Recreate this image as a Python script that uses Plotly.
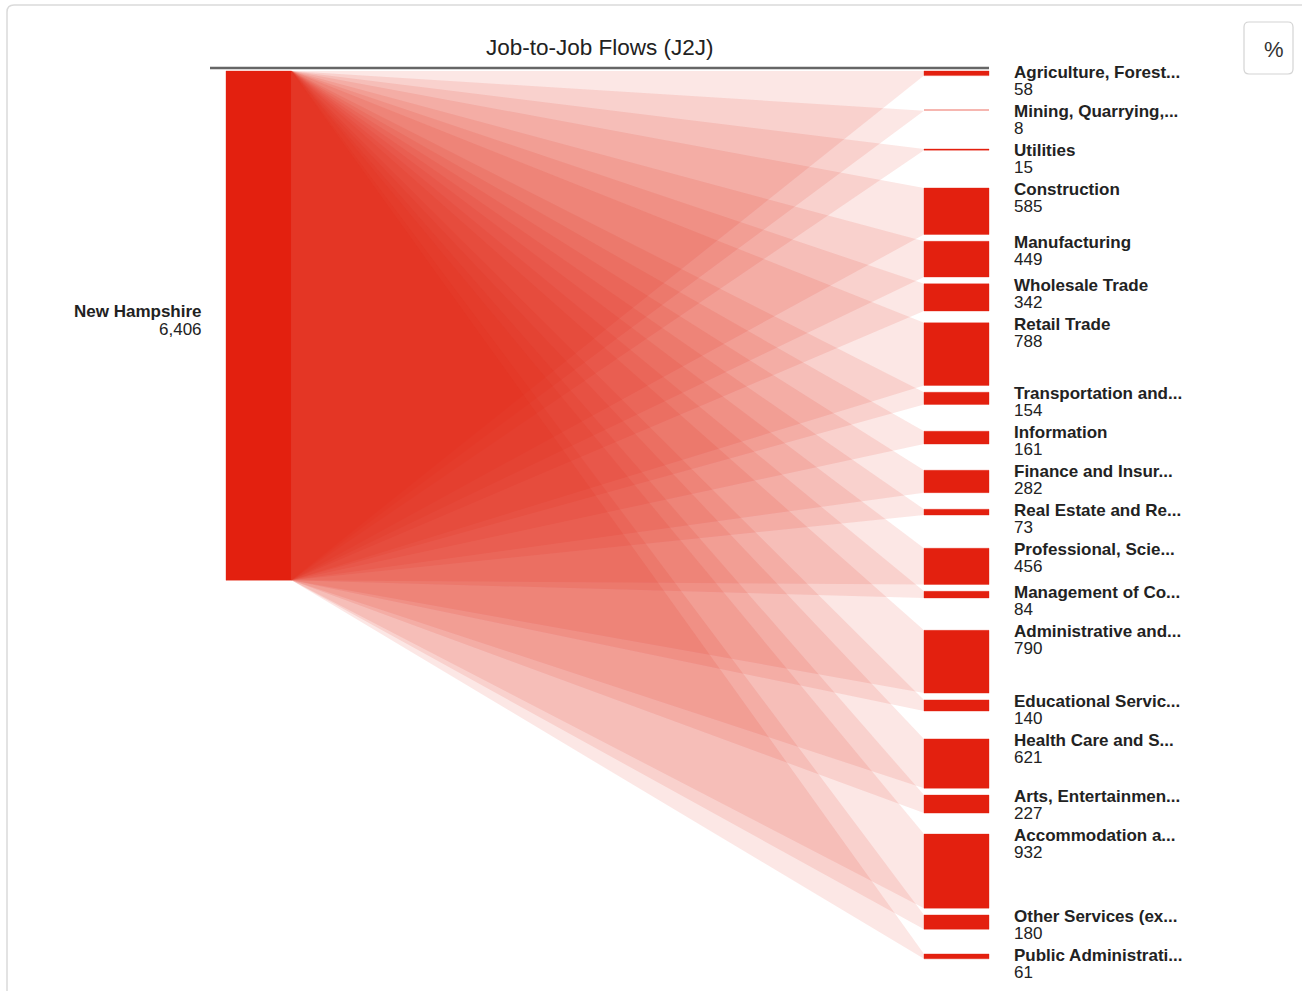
import plotly.graph_objects as go

# ---- data -------------------------------------------------------------
origin = "New Hampshire"
sectors = [
    "Agriculture, Forest...", "Mining, Quarrying,...", "Utilities", "Construction",
    "Manufacturing", "Wholesale Trade", "Retail Trade", "Transportation and...",
    "Information", "Finance and Insur...", "Real Estate and Re...", "Professional, Scie...",
    "Management of Co...", "Administrative and...", "Educational Servic...",
    "Health Care and S...", "Arts, Entertainmen...", "Accommodation a...",
    "Other Services (ex...", "Public Administrati...",
]
flows = [58, 8, 15, 585, 449, 342, 788, 154, 161, 282,
         73, 456, 84, 790, 140, 621, 227, 932, 180, 61]
title = "Job-to-Job Flows (J2J)"

# ---- layout constants (pixel space) -----------------------------------
W, H = 1302, 991
PX_PER_JOB = 0.0795
TOP = 71.0
LABEL_STEP = 39.0      # minimum vertical step between target labels
NODE_GAP = 6.8         # minimum gap between target nodes
LX0, LX1 = 226.0, 291.5
RX0, RX1 = 924.0, 989.0
NODE_RED = "#E3200F"
NODE_EDGE = "rgba(227,32,15,0.45)"
LINK_FILL = "rgba(227,32,15,0.11)"
FONT = "Liberation Sans, Arial, Helvetica, sans-serif"
TEXT = "#222222"

total = sum(flows)
left_top = TOP
left_bot = TOP + total * PX_PER_JOB

# target node placement
tops, bots = [], []
for i, v in enumerate(flows):
    if i == 0:
        t = TOP
    else:
        t = max(tops[-1] + LABEL_STEP, bots[-1] + NODE_GAP)
    tops.append(t)
    bots.append(t + v * PX_PER_JOB)

fig = go.Figure()

# links: each flow fans from the full height of the origin node
for name, t, b in zip(sectors, tops, bots):
    fig.add_trace(go.Scatter(
        x=[LX1, RX0, RX0, LX1, LX1],
        y=[left_top, t, b, left_bot, left_top],
        mode="lines", fill="toself", fillcolor=LINK_FILL,
        line=dict(width=0), hoverinfo="skip", showlegend=False,
    ))

# origin node
fig.add_trace(go.Scatter(
    x=[LX0, LX1, LX1, LX0, LX0],
    y=[left_top, left_top, left_bot, left_bot, left_top],
    mode="lines", fill="toself", fillcolor=NODE_RED,
    line=dict(width=0.8, color=NODE_EDGE), hoverinfo="skip", showlegend=False,
))

# target nodes
for t, b in zip(tops, bots):
    fig.add_trace(go.Scatter(
        x=[RX0, RX1, RX1, RX0, RX0],
        y=[t, t, b, b, t],
        mode="lines", fill="toself", fillcolor=NODE_RED,
        line=dict(width=0.8, color=NODE_EDGE), hoverinfo="skip", showlegend=False,
    ))

annotations = []
# target labels
for name, v, t in zip(sectors, flows, tops):
    annotations.append(dict(
        x=1012, y=t + 1.2, xref="x", yref="y", xanchor="left", yanchor="middle",
        text=f"<b>{name}</b>", showarrow=False,
        font=dict(family=FONT, size=17, color=TEXT),
    ))
    annotations.append(dict(
        x=1012, y=t + 18.3, xref="x", yref="y", xanchor="left", yanchor="middle",
        text=f"{v:,}", showarrow=False,
        font=dict(family=FONT, size=17, color=TEXT),
    ))

# origin label
mid = (left_top + left_bot) / 2
annotations.append(dict(
    x=204, y=mid - 14, xref="x", yref="y", xanchor="right", yanchor="middle",
    text=f"<b>{origin}</b>", showarrow=False,
    font=dict(family=FONT, size=17, color=TEXT),
))
annotations.append(dict(
    x=204, y=mid + 3.6, xref="x", yref="y", xanchor="right", yanchor="middle",
    text=f"{total:,}", showarrow=False,
    font=dict(family=FONT, size=17, color=TEXT),
))

# title
annotations.append(dict(
    x=600, y=47, xref="x", yref="y", xanchor="center", yanchor="middle",
    text=title, showarrow=False,
    font=dict(family=FONT, size=22.5, color=TEXT),
))

# percent toggle caption
annotations.append(dict(
    x=1274, y=49, xref="x", yref="y", xanchor="center", yanchor="middle",
    text="%", showarrow=False,
    font=dict(family=FONT, size=22, color="#333333"),
))

shapes = [
    # outer panel frame
    dict(type="path", xref="x", yref="y",
         path="M 7 1000 L 7 12 Q 7 5 14 5 L 1320 5",
         line=dict(color="#DADADA", width=1.5)),
    # rule under the title
    dict(type="line", xref="x", yref="y", x0=210, x1=RX1, y0=68, y1=68,
         line=dict(color="#666666", width=2.4)),
    # percent toggle box
    dict(type="path", xref="x", yref="y",
         path="M 1249 22 L 1288 22 Q 1293 22 1293 27 L 1293 69 Q 1293 74 1288 74 "
              "L 1249 74 Q 1244 74 1244 69 L 1244 27 Q 1244 22 1249 22 Z",
         line=dict(color="#D4D4D4", width=1.2), fillcolor="white"),
]

fig.update_layout(
    width=W, height=H,
    margin=dict(l=0, r=0, t=0, b=0),
    paper_bgcolor="white", plot_bgcolor="white",
    xaxis=dict(range=[0, W], visible=False, fixedrange=True),
    yaxis=dict(range=[H, 0], visible=False, fixedrange=True),
    annotations=annotations, shapes=shapes,
    showlegend=False, hovermode=False,
)

fig.write_html("out.html", config={"displayModeBar": False, "staticPlot": True})
